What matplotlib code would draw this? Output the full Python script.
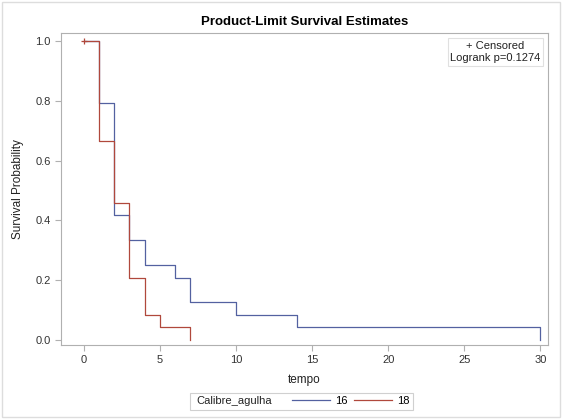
import matplotlib
matplotlib.use("Agg")
import matplotlib.pyplot as plt
from matplotlib.lines import Line2D
from matplotlib.patches import Rectangle

plt.rcParams['font.family'] = ['Liberation Sans', 'DejaVu Sans']

# Kaplan-Meier step data
t_16 = [0, 1, 2, 3, 4, 6, 7, 10, 14, 30]
s_16 = [1.0, 0.792, 0.417, 0.333, 0.25, 0.208, 0.125, 0.083, 0.042, 0.0]
t_18 = [0, 1, 2, 3, 4, 5, 7]
s_18 = [1.0, 0.667, 0.458, 0.208, 0.083, 0.042, 0.0]
cens_t = [0]
cens_s = [1.0]
groups = ['16', '18']

blue = '#5361a0'
red = '#b0483c'
grey = '#b0b0b0'

W, H = 562, 419
fig = plt.figure(figsize=(W / 100, H / 100), dpi=100)
ax = fig.add_axes([0.1085, 0.177, 0.8665, 0.744])

ax.step(t_16, s_16, where='post', color=blue, lw=0.9, zorder=2)
ax.step(t_18, s_18, where='post', color=red, lw=0.9, zorder=3)
ax.plot(cens_t, cens_s, marker='+', color=red, ls='none', ms=5, mew=0.9, zorder=4)

ax.set_xlim(-1.5, 30.5)
ax.set_ylim(-0.017, 1.027)
ax.set_xticks([0, 5, 10, 15, 20, 25, 30])
ax.set_yticks([0.0, 0.2, 0.4, 0.6, 0.8, 1.0])
ax.set_yticklabels(['0.0', '0.2', '0.4', '0.6', '0.8', '1.0'])
for sp in ax.spines.values():
    sp.set_color(grey)
ax.tick_params(colors=grey, labelcolor='#333333', labelsize=8, length=4)

ax.set_xlabel('tempo', fontsize=8.5, color='#222222', labelpad=6)
ax.set_ylabel('Survival Probability', fontsize=8.5, color='#222222', labelpad=8)
ax.set_title('Product-Limit Survival Estimates', fontsize=9.5, fontweight='bold', pad=6)

# inset with censored / logrank text
ax.text(0.985, 0.975, '+ Censored\nLogrank p=0.1274', transform=ax.transAxes,
        ha='right', va='top', fontsize=8, color='#222222', linespacing=1.3,
        multialignment='center',
        bbox=dict(boxstyle='square,pad=0.25', fc='white', ec='#e0e0e0', lw=0.8))

# legend below: box, group title, then the two entries
yc = 1 - 401 / H
fig.patches.append(Rectangle((190 / W, yc - 8.5 / H), 223 / W, 17 / H,
                             transform=fig.transFigure, fill=False,
                             ec='#d0d0d0', lw=0.8))
fig.text(196 / W, yc, 'Calibre_agulha', fontsize=8, color='#222222',
         ha='left', va='center')
handles = [Line2D([], [], color=blue, lw=0.9), Line2D([], [], color=red, lw=0.9)]
leg = fig.legend(handles, groups, loc='center left', bbox_to_anchor=(292 / W, yc),
                 ncol=2, frameon=False, fontsize=8, handlelength=3.4,
                 handletextpad=0.45, columnspacing=0.6, borderpad=0,
                 borderaxespad=0)

# outer frame around the figure
fig.patches.append(Rectangle((0.004, 0.004), 0.992, 0.992, transform=fig.transFigure,
                             fill=False, ec='#dddddd', lw=1))

fig.savefig('out.png', dpi=100)
